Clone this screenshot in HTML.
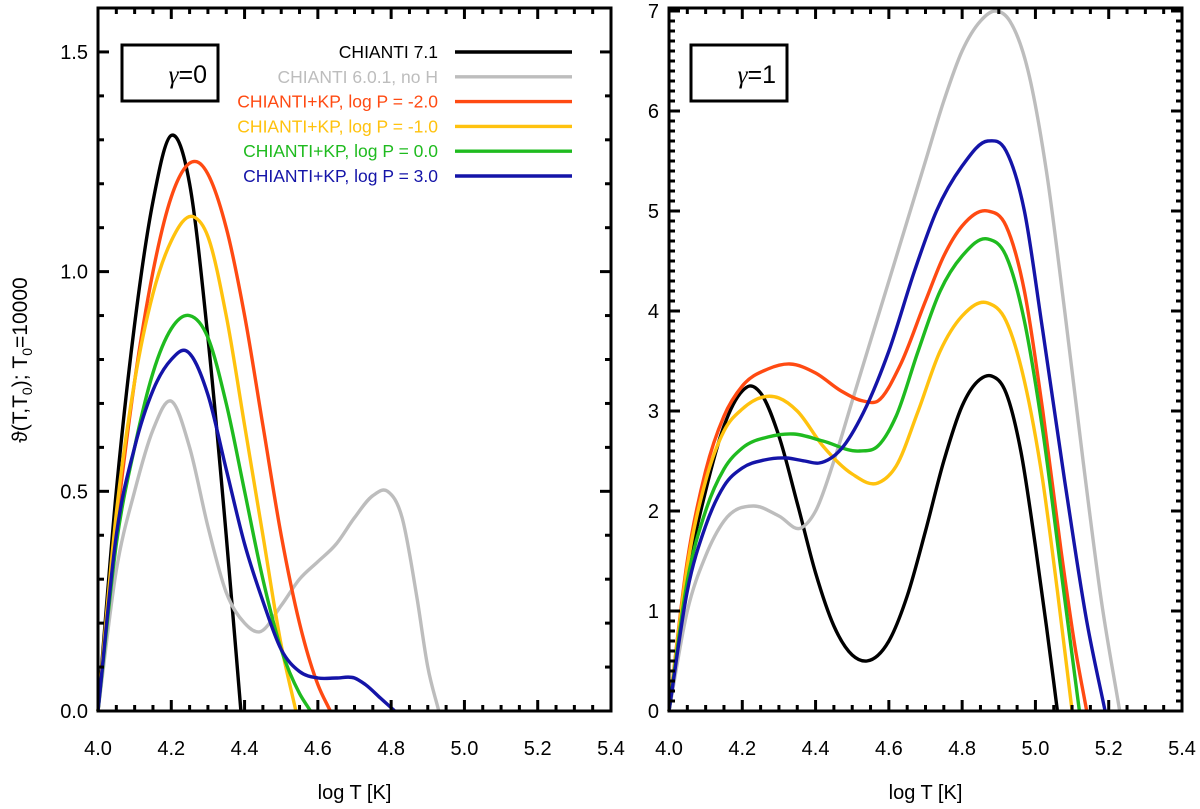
<!DOCTYPE html>
<html><head><meta charset="utf-8"><style>
html,body{margin:0;padding:0;background:#fff;}
svg{display:block;font-family:"Liberation Sans",Arial,sans-serif;}
</style></head><body>
<svg id="chart" width="1200" height="809" viewBox="0 0 1200 809">
<g id="left"></g>
<g id="right"></g>
<text transform="translate(27,360) rotate(-90)" text-anchor="middle" font-size="21" fill="#000">ϑ(T,T<tspan font-size="14" dy="5">0</tspan><tspan dy="-5">); T</tspan><tspan font-size="14" dy="5">0</tspan><tspan dy="-5">=10000</tspan></text>
</svg>
<script>
const seriesNames = ["CHIANTI 7.1","CHIANTI 6.0.1, no H","CHIANTI+KP, log P = -2.0","CHIANTI+KP, log P = -1.0","CHIANTI+KP, log P = 0.0","CHIANTI+KP, log P = 3.0"];
const seriesKeys = ["chianti71","chianti601","kp-m2","kp-m1","kp-0","kp-3"];
const xTicks = [4.0,4.2,4.4,4.6,4.8,5.0,5.2,5.4];
const xTickLabels = ["4.0","4.2","4.4","4.6","4.8","5.0","5.2","5.4"];
const leftYTicks = [0,0.5,1.0,1.5];
const leftYTickLabels = ["0.0","0.5","1.0","1.5"];
const rightYTicks = [0,1,2,3,4,5,6,7];
const rightYTickLabels = ["0","1","2","3","4","5","6","7"];
// left panel (gamma=0)
const L_black_x=[4.0,4.05,4.1,4.15,4.2,4.25,4.3,4.35,4.39];
const L_black_y=[0,0.5,0.88,1.16,1.31,1.2,0.85,0.4,0];
const L_grey_x=[4.0,4.05,4.1,4.15,4.2,4.25,4.3,4.35,4.4,4.44,4.5,4.55,4.6,4.65,4.7,4.75,4.79,4.83,4.87,4.9,4.93];
const L_grey_y=[0,0.32,0.5,0.64,0.705,0.6,0.42,0.27,0.2,0.18,0.24,0.3,0.34,0.38,0.44,0.49,0.5,0.44,0.26,0.1,0];
const L_orange_x=[4.0,4.05,4.1,4.15,4.2,4.27,4.35,4.4,4.45,4.5,4.55,4.6,4.634];
const L_orange_y=[0,0.42,0.75,1.0,1.17,1.25,1.1,0.9,0.65,0.4,0.2,0.06,0];
const L_yellow_x=[4.0,4.05,4.1,4.15,4.2,4.26,4.3,4.35,4.4,4.45,4.5,4.54];
const L_yellow_y=[0,0.45,0.75,0.95,1.07,1.125,1.08,0.9,0.65,0.4,0.15,0];
const L_green_x=[4.0,4.05,4.1,4.15,4.2,4.25,4.3,4.35,4.4,4.45,4.5,4.55,4.58];
const L_green_y=[0,0.38,0.6,0.77,0.87,0.9,0.85,0.7,0.5,0.3,0.14,0.04,0];
const L_blue_x=[4.0,4.05,4.1,4.15,4.2,4.24,4.3,4.35,4.4,4.45,4.5,4.55,4.6,4.65,4.7,4.73,4.77,4.81];
const L_blue_y=[0,0.4,0.6,0.73,0.8,0.82,0.72,0.55,0.38,0.25,0.14,0.09,0.075,0.075,0.075,0.06,0.03,0];
// right panel (gamma=1)
const R_black_x=[4.0,4.05,4.1,4.15,4.2,4.22,4.25,4.3,4.35,4.4,4.45,4.5,4.54,4.6,4.65,4.7,4.75,4.8,4.85,4.88,4.92,4.96,5.0,5.03,5.06];
const R_black_y=[0,1.35,2.2,2.85,3.2,3.25,3.18,2.75,2.08,1.38,0.85,0.56,0.5,0.7,1.15,1.8,2.5,3.05,3.32,3.35,3.18,2.6,1.65,0.85,0];
const R_grey_x=[4.0,4.05,4.1,4.15,4.23,4.3,4.36,4.4,4.45,4.5,4.55,4.6,4.65,4.7,4.75,4.8,4.85,4.89,4.93,4.98,5.03,5.08,5.13,5.18,5.23];
const R_grey_y=[0,1.0,1.55,1.9,2.05,1.95,1.83,2.0,2.5,3.1,3.7,4.3,4.9,5.5,6.1,6.6,6.9,7.0,6.9,6.4,5.4,4.0,2.5,1.1,0];
const R_orange_x=[4.0,4.05,4.1,4.15,4.2,4.27,4.33,4.4,4.47,4.53,4.57,4.63,4.7,4.75,4.8,4.87,4.92,4.97,5.02,5.07,5.11,5.14];
const R_orange_y=[0,1.5,2.4,2.95,3.25,3.42,3.47,3.38,3.2,3.1,3.1,3.45,4.1,4.55,4.85,5.0,4.85,4.2,3.0,1.6,0.6,0];
const R_yellow_x=[4.0,4.05,4.1,4.15,4.2,4.3,4.35,4.42,4.5,4.57,4.62,4.68,4.74,4.8,4.87,4.92,4.97,5.02,5.06,5.1];
const R_yellow_y=[0,1.45,2.3,2.8,3.02,3.13,3.0,2.65,2.37,2.28,2.45,3.0,3.6,3.95,4.08,3.9,3.3,2.3,1.2,0];
const R_green_x=[4.0,4.05,4.1,4.15,4.2,4.27,4.34,4.42,4.52,4.57,4.62,4.68,4.74,4.8,4.87,4.92,4.97,5.02,5.07,5.12];
const R_green_y=[0,1.3,2.0,2.42,2.63,2.74,2.77,2.7,2.6,2.65,2.95,3.6,4.2,4.55,4.72,4.55,3.9,2.8,1.4,0];
const R_blue_x=[4.0,4.05,4.1,4.15,4.2,4.26,4.32,4.37,4.41,4.47,4.53,4.6,4.67,4.73,4.8,4.87,4.92,4.97,5.02,5.08,5.14,5.19];
const R_blue_y=[0,1.2,1.85,2.25,2.43,2.51,2.53,2.5,2.48,2.62,2.98,3.6,4.4,5.0,5.45,5.7,5.6,5.0,3.8,2.3,0.9,0];

const colors=["#000000","#bdbdbd","#ff4a12","#ffc20e","#1fbb1f","#1414a8"];
const NS="http://www.w3.org/2000/svg";
function mk(tag,attrs,parent){const e=document.createElementNS(NS,tag);for(const k in attrs)e.setAttribute(k,attrs[k]);parent.appendChild(e);return e;}

function smoothPath(pts){
  const n=pts.length;const m=[];
  for(let i=0;i<n;i++){
    if(i===0)m.push((pts[1][1]-pts[0][1])/(pts[1][0]-pts[0][0]));
    else if(i===n-1)m.push((pts[n-1][1]-pts[n-2][1])/(pts[n-1][0]-pts[n-2][0]));
    else{
      const s0=(pts[i][1]-pts[i-1][1])/(pts[i][0]-pts[i-1][0]);
      const s1=(pts[i+1][1]-pts[i][1])/(pts[i+1][0]-pts[i][0]);
      const h0=pts[i][0]-pts[i-1][0],h1=pts[i+1][0]-pts[i][0];
      m.push((s0*h1+s1*h0)/(h0+h1));
    }
  }
  let d="M"+pts[0][0].toFixed(1)+","+pts[0][1].toFixed(1);
  for(let i=0;i<n-1;i++){
    const h=pts[i+1][0]-pts[i][0];
    d+=" C"+(pts[i][0]+h/3).toFixed(1)+","+(pts[i][1]+m[i]*h/3).toFixed(1)+" "+(pts[i+1][0]-h/3).toFixed(1)+","+(pts[i+1][1]-m[i+1]*h/3).toFixed(1)+" "+pts[i+1][0].toFixed(1)+","+pts[i+1][1].toFixed(1);
  }
  return d;
}

function panel(g,x0,x1,y0,y1,ymax,yTicks,yLabels,yMinorStep,series,gammaLabel,boxX){
  const sx=v=>x0+(v-4.0)/(5.4-4.0)*(x1-x0);
  const sy=v=>y1-v/ymax*(y1-y0);
  series.forEach((s,i)=>{
    const pts=s[0].map((xv,j)=>[sx(xv),sy(s[1][j])]);
    const p=mk("path",{d:smoothPath(pts),fill:"none",stroke:colors[i],"stroke-width":3.4,"stroke-linejoin":"round"},g);
    
    
  });
  const fr=mk("rect",{x:x0,y:y0,width:x1-x0,height:y1-y0,fill:"none",stroke:"#000","stroke-width":3},g);
  
  
  for(let v=4.0;v<=5.4001;v+=0.05){
    const major=Math.abs(Math.round(v/0.2)*0.2-v)<1e-6;
    const L=major?11:6;const X=sx(v);
    mk("line",{x1:X,x2:X,y1:y1,y2:y1-L,stroke:"#000","stroke-width":3},g);
    mk("line",{x1:X,x2:X,y1:y0,y2:y0+L,stroke:"#000","stroke-width":3},g);
  }
  xTicks.forEach((v,i)=>{
    const t=mk("text",{x:sx(v),y:y1+44,"text-anchor":"middle","font-size":20,fill:"#000"},g);
    t.textContent=xTickLabels[i];
    
    
  });
  for(let v=0;v<=ymax+1e-6;v+=yMinorStep){
    const major=yTicks.some(t=>Math.abs(t-v)<1e-6);
    const L=major?11:6;const Y=sy(v);
    mk("line",{x1:x0,x2:x0+L,y1:Y,y2:Y,stroke:"#000","stroke-width":3},g);
    mk("line",{x1:x1,x2:x1-L,y1:Y,y2:Y,stroke:"#000","stroke-width":3},g);
  }
  yTicks.forEach((v,i)=>{
    const t=mk("text",{x:x0-10,y:sy(v)+7,"text-anchor":"end","font-size":20,fill:"#000"},g);
    t.textContent=yLabels[i];
    
    
  });
  const xt=mk("text",{x:(x0+x1)/2,y:y1+88,"text-anchor":"middle","font-size":20,fill:"#000"},g);
  xt.textContent="log T [K]";
  
  
  const bx=mk("rect",{x:boxX,y:45,width:96,height:56,fill:"#fff",stroke:"#000","stroke-width":3},g);
  
  
  const gt=mk("text",{x:boxX+85,y:83,"text-anchor":"end","font-size":25,fill:"#000"},g);
  gt.innerHTML='<tspan font-family="Liberation Serif, serif" font-style="italic">γ</tspan>='+gammaLabel;
  
  
}

const left=document.getElementById("left");
panel(left,98,611,8,711,1.6,leftYTicks,leftYTickLabels,0.1,
 [[L_black_x,L_black_y],[L_grey_x,L_grey_y],[L_orange_x,L_orange_y],[L_yellow_x,L_yellow_y],[L_green_x,L_green_y],[L_blue_x,L_blue_y]],"0",122);
const right=document.getElementById("right");
panel(right,669,1182,8,711,7.03,rightYTicks,rightYTickLabels,0.1,
 [[R_black_x,R_black_y],[R_grey_x,R_grey_y],[R_orange_x,R_orange_y],[R_yellow_x,R_yellow_y],[R_green_x,R_green_y],[R_blue_x,R_blue_y]],"1",691);

const lg=document.createElementNS(NS,"g");


left.appendChild(lg);
seriesNames.forEach((n,i)=>{
  const y=52+i*24.8;
  const t=mk("text",{x:438,y:y+6,"text-anchor":"end","font-size":17.5,fill:colors[i]},lg);
  t.textContent=n;
  
  
  const l=mk("line",{x1:455,x2:572,y1:y,y2:y,stroke:colors[i],"stroke-width":3.4},lg);
  
  
});
</script>
</body></html>
